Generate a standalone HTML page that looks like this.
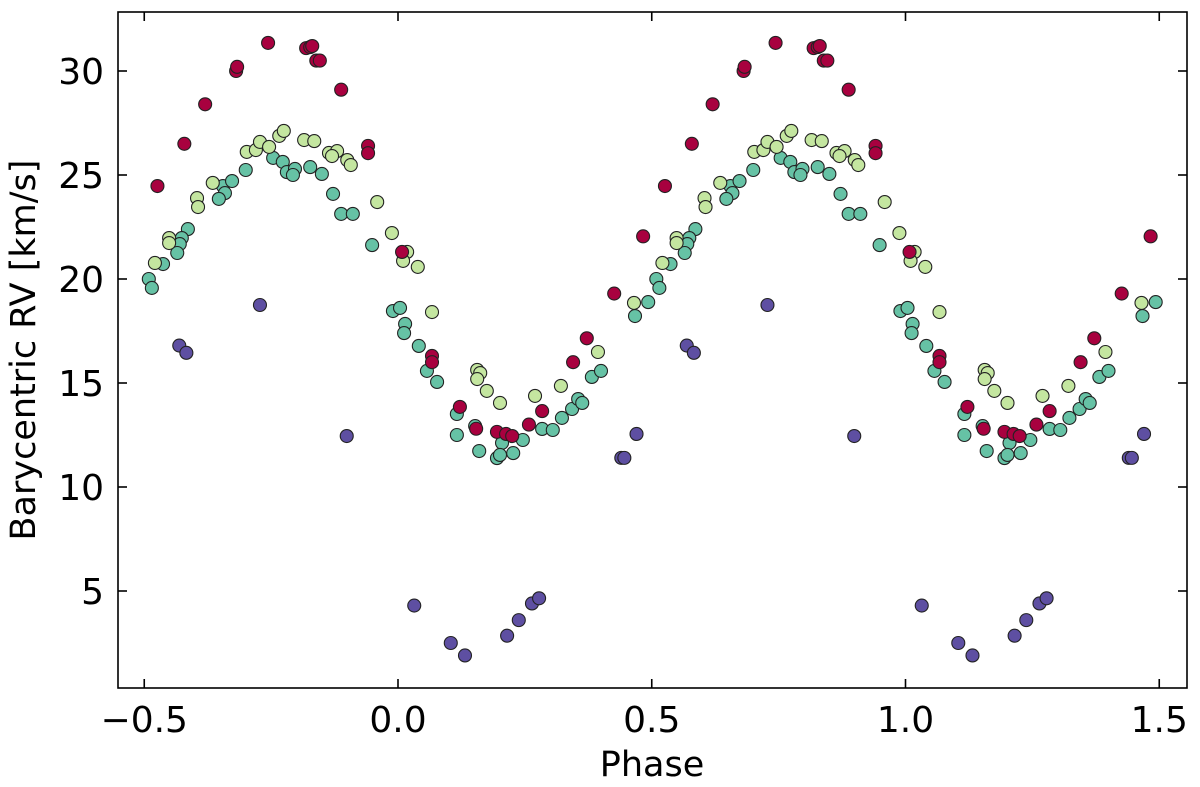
<!DOCTYPE html>
<html><head><meta charset="utf-8"><style>
html,body{margin:0;padding:0;background:#fff}
svg{display:block}
text{font-family:"DejaVu Sans","Liberation Sans",sans-serif;fill:#000}
</style></head><body>
<svg id="chart" width="1200" height="787" viewBox="0 0 1200 787" xmlns="http://www.w3.org/2000/svg"></svg>
<script>
const redPhase=[-0.474,-0.421,-0.380,-0.319,-0.317,-0.256,-0.181,-0.173,-0.169,-0.161,-0.154,-0.112,-0.059,-0.059,0.008,0.067,0.067,0.122,0.195,0.213,0.225,0.258,0.284,0.345,0.372,0.426,0.483,0.154];
const redRV=[24.47,26.5,28.4,30.0,30.2,31.35,31.1,31.15,31.2,30.5,30.5,29.1,26.4,26.05,21.3,16.3,16.0,13.85,12.65,12.55,12.45,13.0,13.65,16.0,17.15,19.3,22.05,12.8];
const bluePhase=[-0.431,-0.417,-0.272,-0.101,0.032,0.104,0.132,0.215,0.238,0.264,0.278,0.440,0.446,0.470];
const blueRV=[16.8,16.45,18.75,12.45,4.3,2.5,1.9,2.85,3.6,4.4,4.65,11.4,11.4,12.55];
const lightPhase=[-0.396,-0.394,-0.451,-0.451,-0.479,-0.365,-0.298,-0.280,-0.272,-0.254,-0.234,-0.225,-0.185,-0.165,-0.136,-0.120,-0.130,-0.100,-0.093,-0.041,-0.012,0.018,0.010,0.039,0.067,0.156,0.162,0.156,0.175,0.201,0.270,0.321,0.394,0.465];
const lightRV=[23.89,23.46,21.97,21.73,20.77,24.62,26.11,26.20,26.59,26.35,26.88,27.12,26.68,26.63,26.06,26.15,25.91,25.72,25.48,23.70,22.21,21.30,20.87,20.58,18.41,15.63,15.48,15.19,14.62,14.04,14.38,14.86,16.49,18.85];
const tealPhase=[-0.414,-0.426,-0.430,-0.435,-0.463,-0.491,-0.485,-0.345,-0.327,-0.341,-0.353,-0.300,-0.246,-0.227,-0.219,-0.203,-0.207,-0.173,-0.150,-0.128,-0.112,-0.089,-0.051,-0.010,0.004,0.014,0.012,0.041,0.057,0.077,0.116,0.116,0.152,0.160,0.205,0.195,0.201,0.227,0.246,0.284,0.305,0.323,0.343,0.355,0.363,0.382,0.400,0.493,0.467];
const tealRV=[22.40,21.97,21.68,21.25,20.72,20.0,19.57,24.47,24.71,24.13,23.85,25.24,25.82,25.63,25.14,25.29,25.0,25.38,25.05,24.09,23.13,23.13,21.63,18.46,18.61,17.84,17.40,16.78,15.58,15.05,13.51,12.50,12.93,11.73,12.12,11.39,11.54,11.63,12.26,12.79,12.74,13.32,13.75,14.23,14.04,15.29,15.58,18.89,18.22];
const xTicks=[-0.5,0.0,0.5,1.0,1.5];
const xTickLabels=["\u22120.5","0.0","0.5","1.0","1.5"];
const yTicks=[5,10,15,20,25,30];
const yTickLabels=["5","10","15","20","25","30"];

const L=118,R=1187,T=12,B=688;
const X=v=>398+v*507.5;
const Y=v=>71+(30-v)*20.8;
const svg=document.getElementById('chart');
const NS='http://www.w3.org/2000/svg';
function mk(tag,attrs,parent){const e=document.createElementNS(NS,tag);for(const k in attrs)e.setAttribute(k,attrs[k]);(parent||svg).appendChild(e);return e;}

const pts=mk('g',{});


function series(ph,rv,color,name){
  const g=mk('g',{},pts);
  
  
  for(let i=0;i<ph.length;i++){
    for(const off of [0,1]){
      const c=mk('circle',{cx:X(ph[i]+off),cy:Y(rv[i]),r:6.5,fill:color,stroke:'#222','stroke-width':1.1},g);
      
      
    }
  }
}
series(tealPhase,tealRV,'#66c2a5','teal');
series(lightPhase,lightRV,'#c4e6a0','lightgreen');
series(redPhase,redRV,'#a8013f','red');
series(bluePhase,blueRV,'#5e4fa2','blue');

const frame=mk('rect',{x:L,y:T,width:R-L,height:B-T,fill:'none',stroke:'#000','stroke-width':1.6});



xTicks.forEach((t,i)=>{
  const x=X(t);
  mk('line',{x1:x,y1:B,x2:x,y2:B-9,stroke:'#000','stroke-width':1.6});
  mk('line',{x1:x,y1:T,x2:x,y2:T+9,stroke:'#000','stroke-width':1.6});
  const tx=mk('text',{x:x,y:732,'text-anchor':'middle','font-size':36});
  tx.textContent=xTickLabels[i];
  
  
});
yTicks.forEach((t,i)=>{
  const y=Y(t);
  mk('line',{x1:L,y1:y,x2:L+9,y2:y,stroke:'#000','stroke-width':1.6});
  mk('line',{x1:R,y1:y,x2:R-9,y2:y,stroke:'#000','stroke-width':1.6});
  const tx=mk('text',{x:L-14,y:y+13,'text-anchor':'end','font-size':36});
  tx.textContent=yTickLabels[i];
  
  
});
const xt=mk('text',{x:652,y:776,'text-anchor':'middle','font-size':35});
xt.textContent='Phase';


const yt=mk('text',{x:0,y:0,'text-anchor':'middle','font-size':35,transform:'translate(35,350) rotate(-90)'});
yt.textContent='Barycentric RV [km/s]';


</script>
</body></html>
